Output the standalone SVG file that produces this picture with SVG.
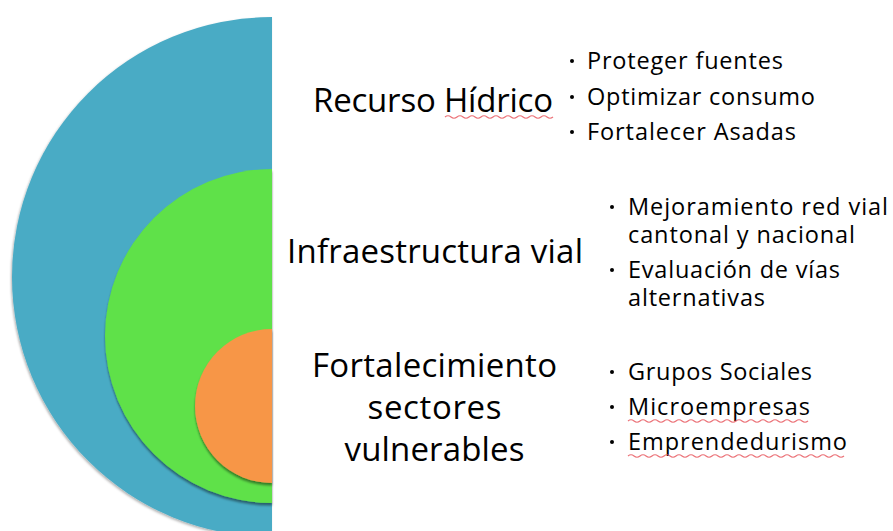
<svg xmlns="http://www.w3.org/2000/svg" width="893" height="531" viewBox="0 0 893 531">
  <style>
    .h { font-family: "Open Sans", "Liberation Sans", sans-serif; font-size: 33px; fill: #000; }
    .b { font-family: "Open Sans", "Liberation Sans", sans-serif; font-size: 23.5px; fill: #000; font-weight: 500; }
    .dot { fill: #000; }
    .wave { fill: none; stroke: #e8585f; stroke-width: 1.2; opacity: 0.85; }
  </style>
  <defs>
    <filter id="sh" x="-10%" y="-10%" width="120%" height="125%">
      <feDropShadow dx="0" dy="2.5" stdDeviation="1.2" flood-color="#000" flood-opacity="0.45"/>
    </filter>
    <filter id="sh2" x="-10%" y="-10%" width="120%" height="125%">
      <feDropShadow dx="-1" dy="1.5" stdDeviation="1.2" flood-color="#000" flood-opacity="0.3"/>
    </filter>
  </defs>
  <rect width="893" height="531" fill="#fff"/>

  <g id="circulos">
    <path d="M272,17 A260,260 0 0 0 272,537 Z" fill="#4AABC5" filter="url(#sh2)"/>
    <path d="M272,169 A167,167 0 0 0 272,503 Z" fill="#5EE148" filter="url(#sh)"/>
    <path d="M272,329 A77,77 0 0 0 272,483 Z" fill="#F79646" filter="url(#sh)"/>
  </g>

  <g id="recurso-hidrico">
    <text class="h" x="313" y="112" textLength="240">Recurso Hídrico</text>
    <path class="wave" d="M445,117 q3,-2.5 6,0 t6,0 t6,0 t6,0 t6,0 t6,0 t6,0 t6,0 t6,0 t6,0 t6,0 t6,0 t6,0 t6,0 t6,0 t6,0 t6,0 t6,0"/>
  </g>
  <g id="recurso-hidrico-items">
    <circle class="dot" cx="572" cy="61" r="2"/>
    <text class="b" x="587" y="69" textLength="196">Proteger fuentes</text>
    <circle class="dot" cx="572" cy="97" r="2"/>
    <text class="b" x="587" y="105" textLength="228">Optimizar consumo</text>
    <circle class="dot" cx="572" cy="132" r="2"/>
    <text class="b" x="587" y="140" textLength="209">Fortalecer Asadas</text>
  </g>

  <g id="infraestructura-vial">
    <text class="h" x="287" y="263" textLength="296">Infraestructura vial</text>
  </g>
  <g id="infraestructura-vial-items">
    <circle class="dot" cx="612" cy="207" r="2"/>
    <text class="b" x="628" y="215" textLength="260">Mejoramiento red vial</text>
    <text class="b" x="628" y="243" textLength="227">cantonal y nacional</text>
    <circle class="dot" cx="612" cy="270" r="2"/>
    <text class="b" x="628" y="278" textLength="212">Evaluación de vías</text>
    <text class="b" x="628" y="306" textLength="137">alternativas</text>
  </g>

  <g id="sectores-vulnerables">
    <text class="h" x="434.5" y="377" text-anchor="middle" textLength="245">Fortalecimiento</text>
    <text class="h" x="434.5" y="419" text-anchor="middle" textLength="134">sectores</text>
    <text class="h" x="434.5" y="461" text-anchor="middle" textLength="180">vulnerables</text>
  </g>
  <g id="sectores-vulnerables-items">
    <circle class="dot" cx="612" cy="372" r="2"/>
    <text class="b" x="628" y="380" textLength="184">Grupos Sociales</text>
    <circle class="dot" cx="612" cy="407" r="2"/>
    <text class="b" x="628" y="415" textLength="182">Microempresas</text>
    <path class="wave" d="M628,421 q3,-2.5 6,0 t6,0 t6,0 t6,0 t6,0 t6,0 t6,0 t6,0 t6,0 t6,0 t6,0 t6,0 t6,0 t6,0 t6,0 t6,0 t6,0 t6,0 t6,0 t6,0 t6,0 t6,0 t6,0 t6,0 t6,0 t6,0 t6,0 t6,0 t6,0 t6,0"/>
    <circle class="dot" cx="612" cy="442" r="2"/>
    <text class="b" x="628" y="450" textLength="219">Emprendedurismo</text>
    <path class="wave" d="M628,456 q3,-2.5 6,0 t6,0 t6,0 t6,0 t6,0 t6,0 t6,0 t6,0 t6,0 t6,0 t6,0 t6,0 t6,0 t6,0 t6,0 t6,0 t6,0 t6,0 t6,0 t6,0 t6,0 t6,0 t6,0 t6,0 t6,0 t6,0 t6,0 t6,0 t6,0 t6,0 t6,0 t6,0 t6,0 t6,0 t6,0 t6,0"/>
  </g>
</svg>
